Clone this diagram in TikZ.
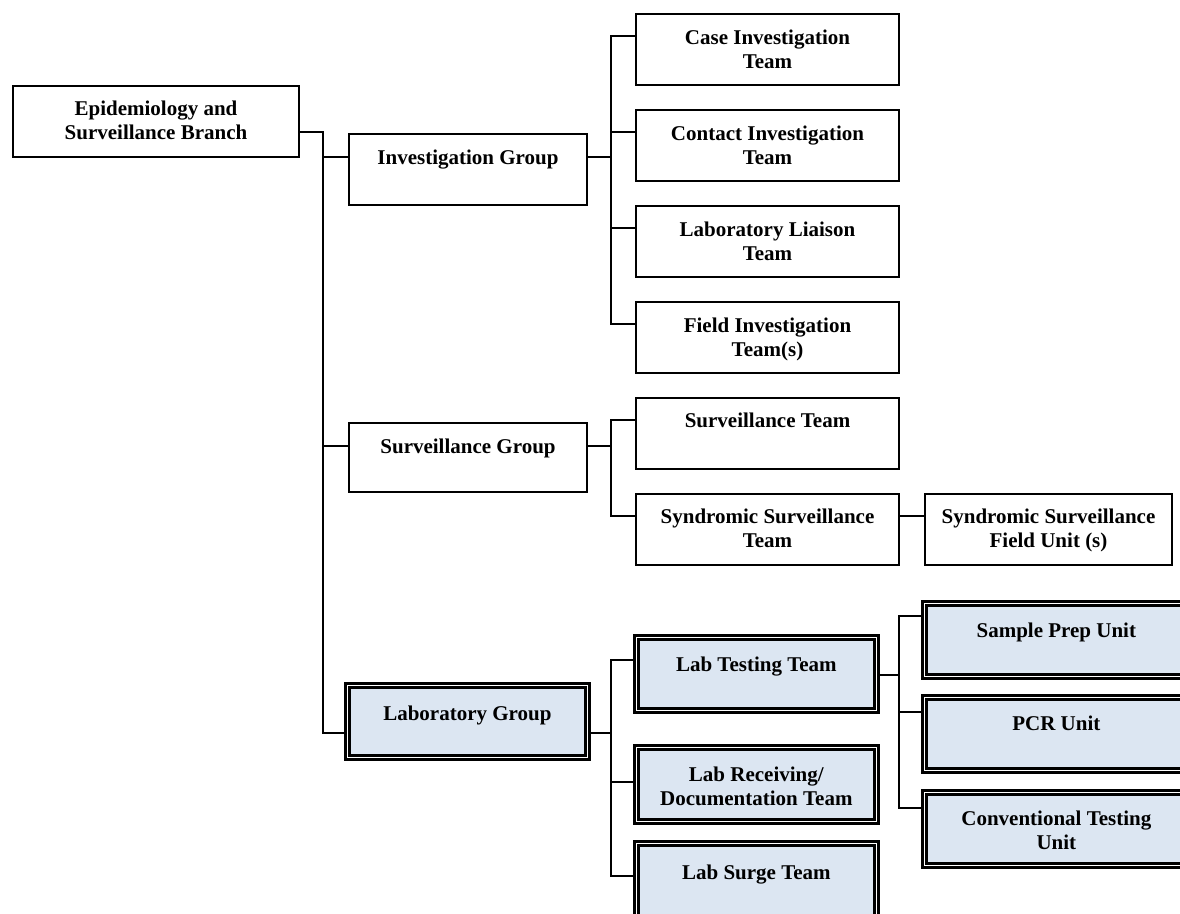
\documentclass[tikz,border=0pt]{standalone}
\usepackage{fontspec}
\setmainfont{Liberation Serif}
\usetikzlibrary{calc}
\definecolor{labblue}{RGB}{220,230,242}
\begin{document}
\begin{tikzpicture}[x=1pt,y=-1pt,
  plainbox/.style={draw=black, line width=2pt, inner sep=0pt, anchor=north west},
  dblbox/.style={draw=black, double=white, double distance=1.6pt, line width=2.7pt, fill=labblue, inner sep=0pt, anchor=north west},
  lbl/.style={font=\bfseries\fontsize{21}{24}\selectfont, align=center, anchor=base, inner sep=0pt},
  conn/.style={draw=black, line width=2pt, line cap=rect}]
\clip (0,0) rectangle (1180,913);
\fill[white] (0,0) rectangle (1180,913);

% ---------- plain boxes ----------
\node[plainbox, minimum width=286pt, minimum height=71pt] (branch) at (12,85) {};
\node[plainbox, minimum width=238pt, minimum height=71pt] (inv) at (348,133) {};
\node[plainbox, minimum width=238pt, minimum height=69pt] (surv) at (348,422) {};
\node[plainbox, minimum width=263pt, minimum height=71pt] (case) at (635,13) {};
\node[plainbox, minimum width=263pt, minimum height=71pt] (contact) at (635,109) {};
\node[plainbox, minimum width=263pt, minimum height=71pt] (liaison) at (635,205) {};
\node[plainbox, minimum width=263pt, minimum height=71pt] (field) at (635,301) {};
\node[plainbox, minimum width=263pt, minimum height=71pt] (survteam) at (635,397) {};
\node[plainbox, minimum width=263pt, minimum height=71pt] (synd) at (635,493) {};
\node[plainbox, minimum width=247pt, minimum height=71pt] (fieldunit) at (924,493) {};

% ---------- double boxes ----------
\node[dblbox, minimum width=240pt, minimum height=72pt] (labgrp) at (346,684) {};
\node[dblbox, minimum width=240pt, minimum height=73pt] (labtest) at (635,636) {};
\node[dblbox, minimum width=240pt, minimum height=74pt] (labrecv) at (635,746) {};
\node[dblbox, minimum width=240pt, minimum height=100pt] (labsurge) at (635,842) {};
\node[dblbox, minimum width=264pt, minimum height=73pt] (sample) at (923,602) {};
\node[dblbox, minimum width=264pt, minimum height=73pt] (pcr) at (923,696) {};
\node[dblbox, minimum width=264pt, minimum height=73pt] (conv) at (923,791) {};

% ---------- labels (anchor=base is the baseline of the last line) ----------
\node[lbl] (tbranch) at ($(branch.north)+(0,54)$) {Epidemiology and\\Surveillance Branch};
\node[lbl] (tinv) at ($(inv.north)+(0,31)$) {Investigation Group};
\node[lbl] (tsurv) at ($(surv.north)+(0,31)$) {Surveillance Group};
\node[lbl] (tcase) at ($(case.north)+(0,55)$) {Case Investigation\\Team};
\node[lbl] (tcontact) at ($(contact.north)+(0,55)$) {Contact Investigation\\Team};
\node[lbl] (tliaison) at ($(liaison.north)+(0,55)$) {Laboratory Liaison\\Team};
\node[lbl] (tfield) at ($(field.north)+(0,55)$) {Field Investigation\\Team(s)};
\node[lbl] (tsurvteam) at ($(survteam.north)+(0,30)$) {Surveillance Team};
\node[lbl] (tsynd) at ($(synd.north)+(0,54)$) {Syndromic Surveillance\\Team};
\node[lbl] (tfieldunit) at ($(fieldunit.north)+(0,54)$) {Syndromic Surveillance\\Field Unit (s)};
\node[lbl] (tlabgrp) at ($(labgrp.north)+(0,36)$) {Laboratory Group};
\node[lbl] (tlabtest) at ($(labtest.north)+(0,35)$) {Lab Testing Team};
\node[lbl] (tlabrecv) at ($(labrecv.north)+(0,59)$) {Lab Receiving/\\Documentation Team};
\node[lbl] (tlabsurge) at ($(labsurge.north)+(0,37)$) {Lab Surge Team};
\node[lbl] (tsample) at ($(sample.north)+(0,35)$) {Sample Prep Unit};
\node[lbl] (tpcr) at ($(pcr.north)+(0,34)$) {PCR Unit};
\node[lbl] (tconv) at ($(conv.north)+(0,58)$) {Conventional Testing\\Unit};

% ---------- connection points ----------
\coordinate (branch-out) at ($(branch.north east)+(0,47)$);
\coordinate (inv-in) at ($(inv.north west)+(0,24)$);
\coordinate (inv-out) at ($(inv.north east)+(0,24)$);
\coordinate (surv-in) at ($(surv.north west)+(0,24)$);
\coordinate (surv-out) at ($(surv.north east)+(0,24)$);
\coordinate (labgrp-in) at ($(labgrp.north west)+(0,49)$);
\coordinate (labgrp-out) at ($(labgrp.north east)+(0,49)$);
\coordinate (case-in) at ($(case.north west)+(0,23)$);
\coordinate (contact-in) at ($(contact.north west)+(0,23)$);
\coordinate (liaison-in) at ($(liaison.north west)+(0,23)$);
\coordinate (field-in) at ($(field.north west)+(0,23)$);
\coordinate (survteam-in) at ($(survteam.north west)+(0,23)$);
\coordinate (synd-in) at ($(synd.north west)+(0,23)$);
\coordinate (synd-out) at ($(synd.north east)+(0,23)$);
\coordinate (fieldunit-in) at ($(fieldunit.north west)+(0,23)$);
\coordinate (labtest-in) at ($(labtest.north west)+(0,24)$);
\coordinate (labtest-out) at ($(labtest.north east)+(0,39)$);
\coordinate (labrecv-in) at ($(labrecv.north west)+(0,36)$);
\coordinate (labsurge-in) at ($(labsurge.north west)+(0,34)$);
\coordinate (sample-in) at ($(sample.north west)+(0,14)$);
\coordinate (pcr-in) at ($(pcr.north west)+(0,16)$);
\coordinate (conv-in) at ($(conv.north west)+(0,17)$);

\coordinate (trunk) at (323,0);
\coordinate (subA) at (611,0);
\coordinate (subB) at (899,0);

% ---------- connectors ----------
% main trunk
\draw[conn] (branch-out) -- (trunk |- branch-out) -- (trunk |- labgrp-in) -- (labgrp-in);
\draw[conn] (trunk |- inv-in) -- (inv-in);
\draw[conn] (trunk |- surv-in) -- (surv-in);
% investigation group
\draw[conn] (inv-out) -- (subA |- inv-out);
\draw[conn] (case-in) -- (subA |- case-in) -- (subA |- field-in) -- (field-in);
\draw[conn] (subA |- contact-in) -- (contact-in);
\draw[conn] (subA |- liaison-in) -- (liaison-in);
% surveillance group
\draw[conn] (surv-out) -- (subA |- surv-out);
\draw[conn] (survteam-in) -- (subA |- survteam-in) -- (subA |- synd-in) -- (synd-in);
\draw[conn] (synd-out) -- (fieldunit-in);
% laboratory group
\draw[conn] (labgrp-out) -- (subA |- labgrp-out);
\draw[conn] (labtest-in) -- (subA |- labtest-in) -- (subA |- labsurge-in) -- (labsurge-in);
\draw[conn] (subA |- labrecv-in) -- (labrecv-in);
% lab testing team
\draw[conn] (labtest-out) -- (subB |- labtest-out);
\draw[conn] (sample-in) -- (subB |- sample-in) -- (subB |- conv-in) -- (conv-in);
\draw[conn] (subB |- pcr-in) -- (pcr-in);
\end{tikzpicture}
\end{document}
